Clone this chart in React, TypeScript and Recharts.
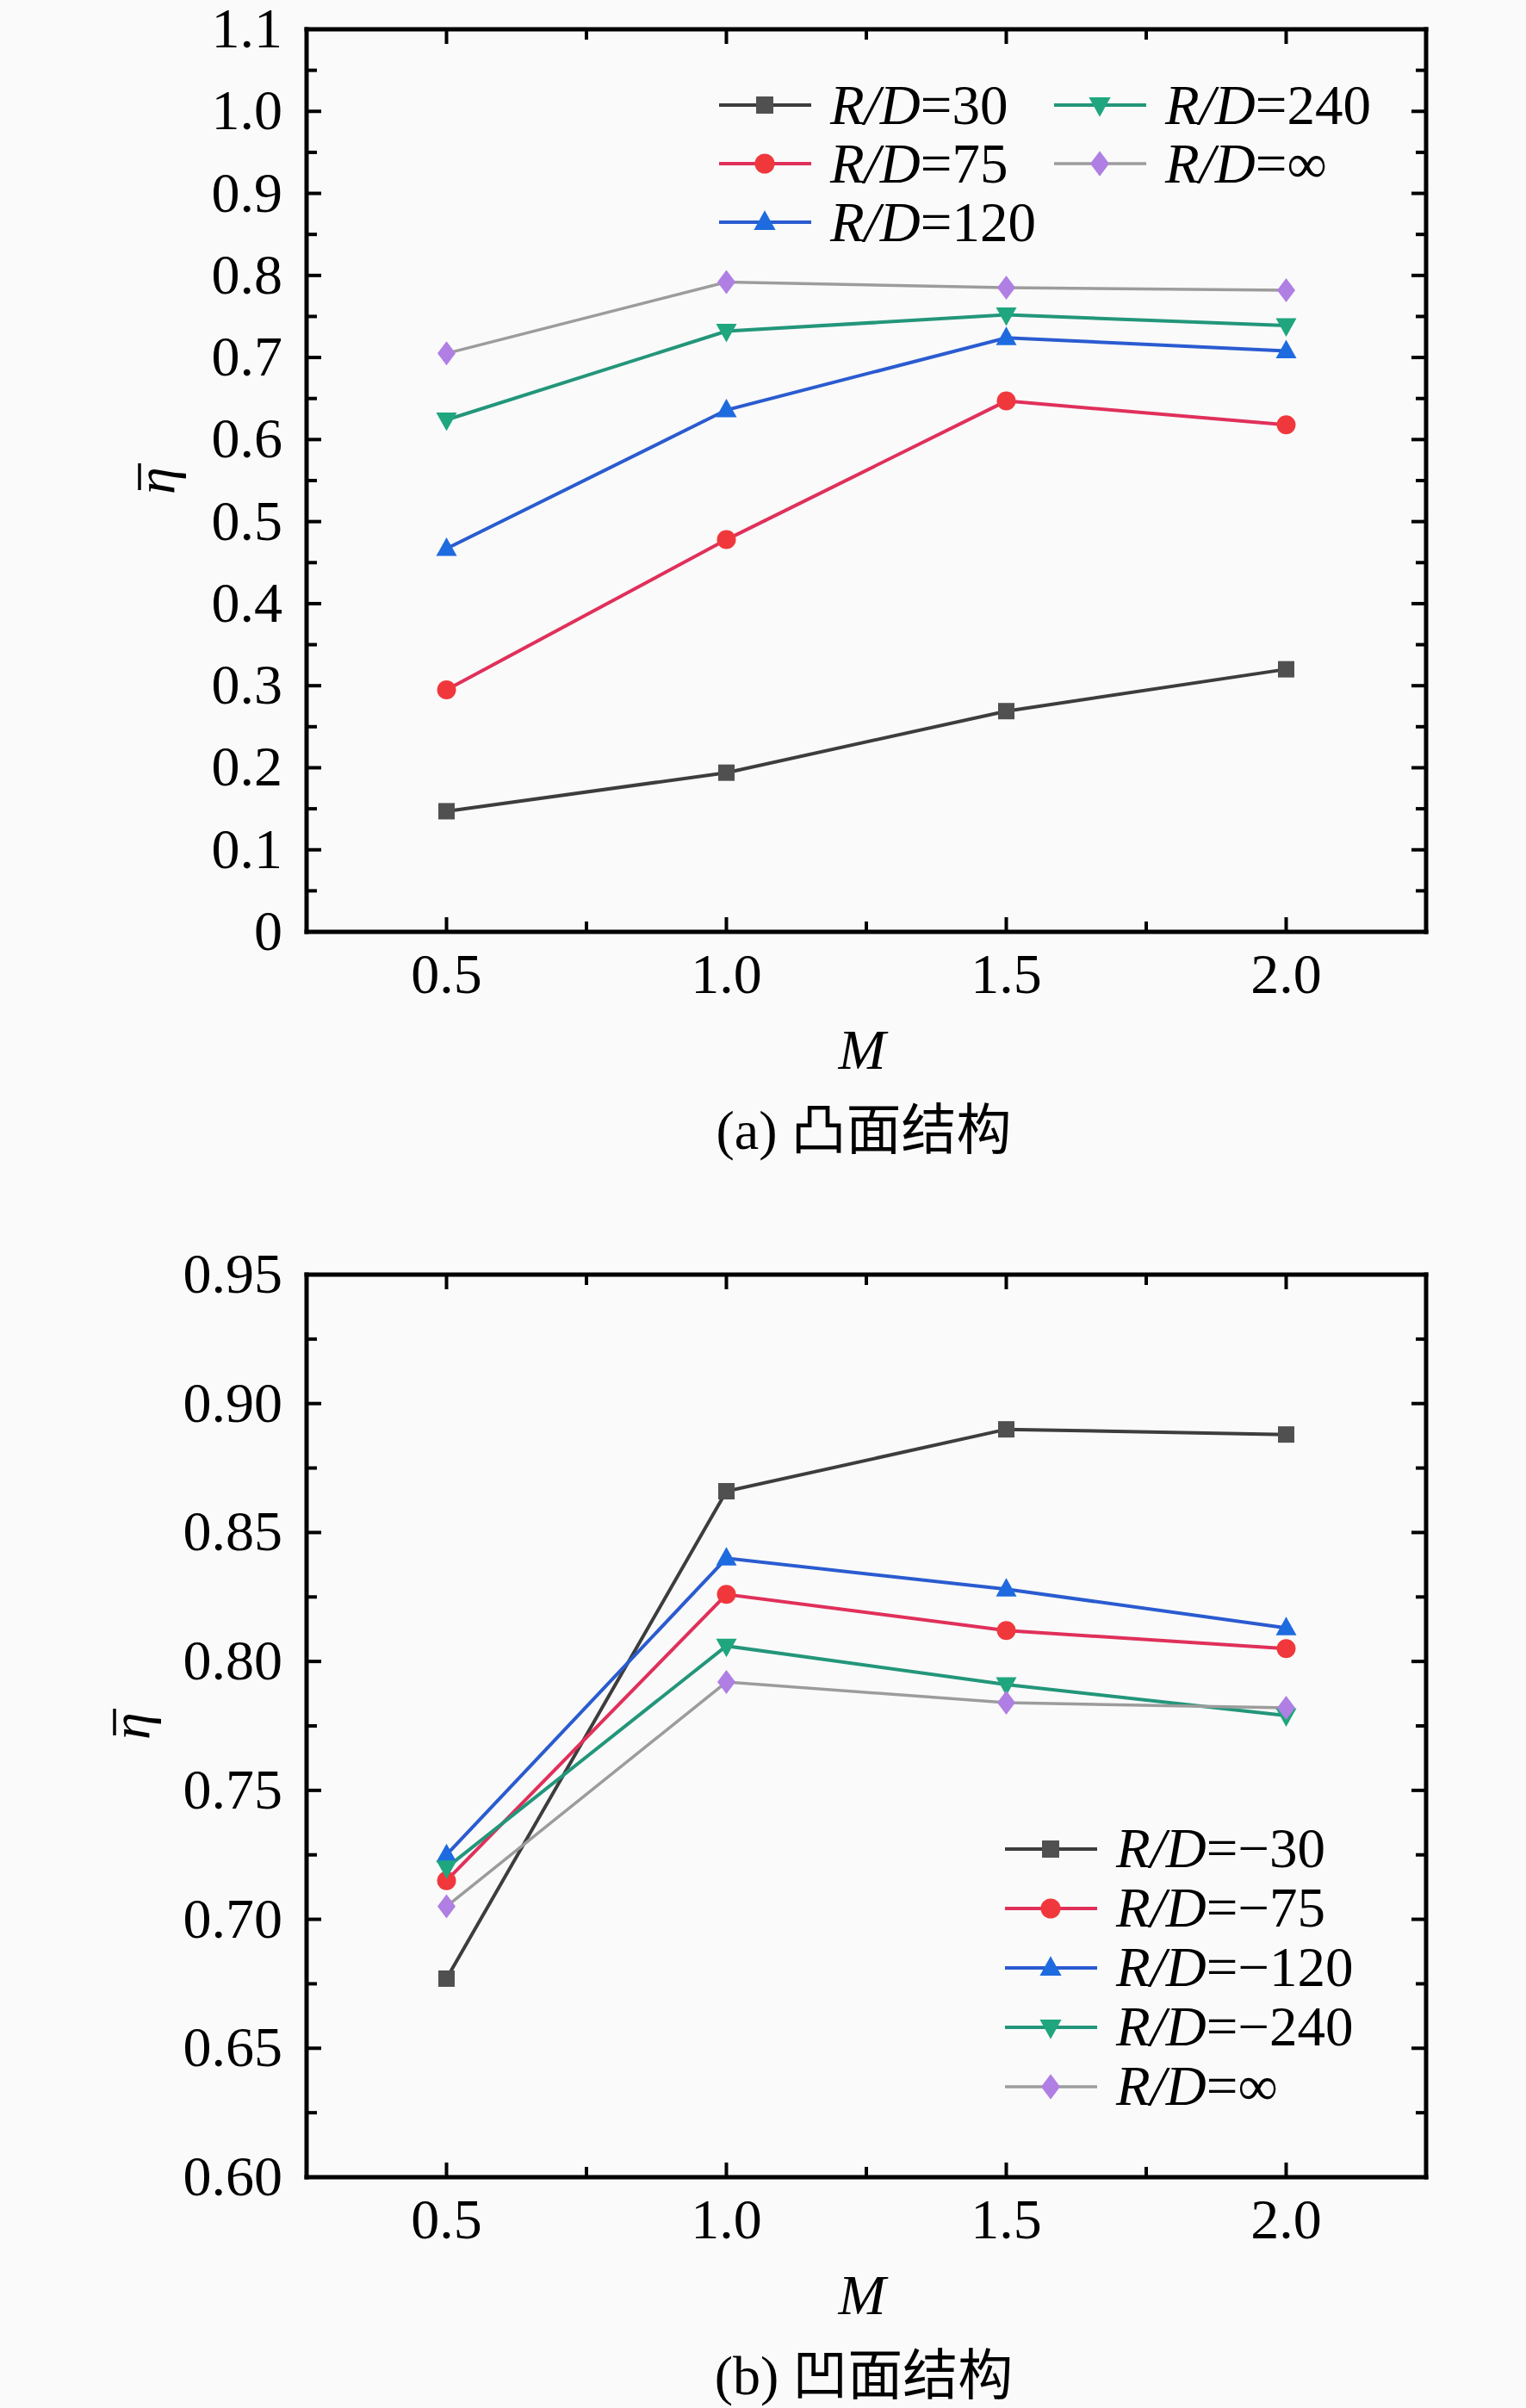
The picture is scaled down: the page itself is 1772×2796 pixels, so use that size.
import React from 'react';
import { Legend, Line, LineChart, XAxis, YAxis } from 'recharts';

// M values shared by both panels
const M_VALUES = [0.5, 1.0, 1.5, 2.0];
const X_MAJOR = [0.5, 1.0, 1.5, 2.0];
const X_MINOR = [0.75, 1.25, 1.75];

// (a) convex surface
const A_Y_MAJOR = [0, 0.1, 0.2, 0.3, 0.4, 0.5, 0.6, 0.7, 0.8, 0.9, 1.0, 1.1];
const A_Y_MINOR = [0.05, 0.15, 0.25, 0.35, 0.45, 0.55, 0.65, 0.75, 0.85, 0.95, 1.05];
const A_LABELS = ['30', '75', '120', '240', '∞'];
const A_RD30 = [0.147, 0.194, 0.269, 0.32];
const A_RD75 = [0.295, 0.478, 0.647, 0.618];
const A_RD120 = [0.467, 0.636, 0.724, 0.708];
const A_RD240 = [0.624, 0.732, 0.752, 0.739];
const A_RDINF = [0.705, 0.792, 0.785, 0.782];

// (b) concave surface
const B_Y_MAJOR = [0.6, 0.65, 0.7, 0.75, 0.8, 0.85, 0.9, 0.95];
const B_Y_MINOR = [0.625, 0.675, 0.725, 0.775, 0.825, 0.875, 0.925];
const B_LABELS = ['−30', '−75', '−120', '−240', '∞'];
const B_RD30 = [0.677, 0.866, 0.89, 0.888];
const B_RD75 = [0.715, 0.826, 0.812, 0.805];
const B_RD120 = [0.725, 0.84, 0.828, 0.813];
const B_RD240 = [0.72, 0.806, 0.791, 0.779];
const B_RDINF = [0.705, 0.792, 0.784, 0.782];

type Shape = 'square' | 'circle' | 'up' | 'down' | 'diamond';

// Origin-like look, same order in both panels.
const LOOK: { line: string; fill: string; shape: Shape; width: number }[] = [
  { line: '#3d3d3d', fill: '#505050', shape: 'square', width: 4 },
  { line: '#e0305a', fill: '#f0383c', shape: 'circle', width: 4 },
  { line: '#2a5bd0', fill: '#1e6be0', shape: 'up', width: 4 },
  { line: '#23967a', fill: '#1fa67e', shape: 'down', width: 4 },
  { line: '#9c9c9c', fill: '#b07fe3', shape: 'diamond', width: 3.5 },
];

const SERIF = '"Times New Roman", "Liberation Serif", "DejaVu Serif", serif';
const CAPTION_FONT = '"Times New Roman", "Liberation Serif", "Noto Sans CJK SC", serif';
const AXIS_LINE = { stroke: '#000', strokeWidth: 5, strokeLinecap: 'square' as const };
const TICK_W = 4;
const MAJOR_LEN = 17;
const MINOR_LEN = 12;
const PLOT_TOP = 53; // room above the frame so the top tick label is not clipped

const isMajor = (v: number, majors: number[]) => majors.some((m) => Math.abs(m - v) < 1e-9);

function Marker({ shape, cx, cy, fill, k = 1 }: { shape: Shape; cx: number; cy: number; fill: string; k?: number }) {
  switch (shape) {
    case 'square':
      return <rect x={cx - 9.5 * k} y={cy - 9.5 * k} width={19 * k} height={19 * k} fill={fill} />;
    case 'circle':
      return <circle cx={cx} cy={cy} r={11 * k} fill={fill} />;
    case 'up':
      return <polygon points={`${cx},${cy - 13 * k} ${cx + 12 * k},${cy + 8.5 * k} ${cx - 12 * k},${cy + 8.5 * k}`} fill={fill} />;
    case 'down':
      return <polygon points={`${cx},${cy + 13 * k} ${cx + 12 * k},${cy - 8.5 * k} ${cx - 12 * k},${cy - 8.5 * k}`} fill={fill} />;
    default:
      return <polygon points={`${cx},${cy - 14 * k} ${cx + 10.5 * k},${cy} ${cx},${cy + 14 * k} ${cx - 10.5 * k},${cy}`} fill={fill} />;
  }
}

function makeXTick(side: 'bottom' | 'top') {
  return (props: any) => {
    const { x, y, payload } = props;
    const major = isMajor(payload.value, X_MAJOR);
    const len = major ? MAJOR_LEN : MINOR_LEN;
    const dir = side === 'bottom' ? -1 : 1;
    return (
      <g>
        <line x1={x} x2={x} y1={y} y2={y + dir * len} stroke="#000" strokeWidth={TICK_W} />
        {side === 'bottom' && major && (
          <text x={x} y={y + 71} textAnchor="middle" fontFamily={SERIF} fontSize={66} fill="#000">
            {Number(payload.value).toFixed(1)}
          </text>
        )}
      </g>
    );
  };
}

function makeYTick(side: 'left' | 'right', majors: number[], fmt: (v: number) => string) {
  return (props: any) => {
    const { x, y, payload } = props;
    const major = isMajor(payload.value, majors);
    const len = major ? MAJOR_LEN : MINOR_LEN;
    const dir = side === 'left' ? 1 : -1;
    return (
      <g>
        <line x1={x} x2={x + dir * len} y1={y} y2={y} stroke="#000" strokeWidth={TICK_W} />
        {side === 'left' && major && (
          <text x={x - 28} y={y + 21} textAnchor="end" fontFamily={SERIF} fontSize={66} fill="#000">
            {fmt(payload.value)}
          </text>
        )}
      </g>
    );
  };
}

function EtaLabel({ viewBox, baseX }: { viewBox?: any; baseX: number }) {
  const cy = viewBox ? viewBox.y + viewBox.height / 2 : 577;
  return (
    <g transform={`translate(${baseX},${cy}) rotate(-90)`}>
      <text x={0} y={0} textAnchor="middle" fontFamily={SERIF} fontStyle="italic" fontSize={64} fill="#000">
        η
      </text>
      <line x1={-11} x2={20} y1={-40} y2={-40} stroke="#000" strokeWidth={3.5} />
    </g>
  );
}

function XLabel({ viewBox, caption }: { viewBox?: any; caption: string }) {
  const cx = viewBox ? viewBox.x + viewBox.width / 2 : 1006;
  const top = viewBox ? viewBox.y : 1101;
  return (
    <g>
      <text x={cx - 5} y={top + 159} textAnchor="middle" fontFamily={SERIF} fontStyle="italic" fontSize={66} fill="#000">
        M
      </text>
      <text x={cx - 3} y={top + 252} textAnchor="middle" fontFamily={CAPTION_FONT} fontSize={64} fill="#000">
        {caption}
      </text>
    </g>
  );
}

function LegendItem({ idx, label }: { idx: number; label: string }) {
  const look = LOOK[idx];
  return (
    <div style={{ display: 'flex', alignItems: 'center', height: '100%' }}>
      <svg width={107} height={40} style={{ display: 'block' }}>
        <line x1={0} x2={107} y1={20} y2={20} stroke={look.line} strokeWidth={look.width} />
        <Marker shape={look.shape} cx={53} cy={20} fill={look.fill} k={1.05} />
      </svg>
      <span style={{ marginLeft: 22, fontFamily: SERIF, fontSize: 65, lineHeight: 1, color: '#000', whiteSpace: 'nowrap' }}>
        <i>R</i>
        <i>/</i>
        <i>D</i>={label}
      </span>
    </div>
  );
}

function makeLegend(labels: string[], rows: number, rowH: number, colW: string) {
  return (props: any) => {
    const payload: any[] = props.payload || [];
    return (
      <div
        style={{
          display: 'grid',
          gridAutoFlow: 'column',
          gridTemplateRows: `repeat(${rows}, ${rowH}px)`,
          gridTemplateColumns: colW,
        }}
      >
        {payload.map((entry) => {
          const idx = Number(String(entry.dataKey).slice(1));
          return <LegendItem key={String(entry.dataKey)} idx={idx} label={labels[idx]} />;
        })}
      </div>
    );
  };
}

type PanelProps = {
  series: number[][];
  yDomain: [number, number];
  yMajor: number[];
  yMinor: number[];
  fmt: (v: number) => string;
  etaX: number;
  caption: string;
  legend: (props: any) => React.ReactElement;
  legendPos: { left: number; top: number };
};

function Panel({ series, yDomain, yMajor, yMinor, fmt, etaX, caption, legend, legendPos }: PanelProps) {
  const data = M_VALUES.map((m, i) => {
    const row: Record<string, number> = { m };
    series.forEach((s, k) => {
      row[`s${k}`] = s[i];
    });
    return row;
  });
  const xTicks = [...X_MAJOR, ...X_MINOR];
  const yTicks = [...yMajor, ...yMinor];
  return (
    <LineChart width={1772} height={1369} data={data} margin={{ top: PLOT_TOP - 1, right: 115, bottom: 0, left: 0 }}>
      <XAxis
        xAxisId="bottom"
        dataKey="m"
        type="number"
        domain={[0.25, 2.25]}
        ticks={xTicks}
        interval={0}
        tickSize={0}
        tickMargin={0}
        tickLine={false}
        tick={makeXTick('bottom')}
        axisLine={AXIS_LINE}
        height={268}
        allowDataOverflow
        label={<XLabel caption={caption} />}
      />
      <XAxis
        xAxisId="top"
        orientation="top"
        dataKey="m"
        type="number"
        domain={[0.25, 2.25]}
        ticks={xTicks}
        interval={0}
        tickSize={0}
        tickMargin={0}
        tickLine={false}
        tick={makeXTick('top')}
        axisLine={AXIS_LINE}
        height={1}
        allowDataOverflow
      />
      <YAxis
        yAxisId="left"
        type="number"
        domain={yDomain}
        ticks={yTicks}
        interval={0}
        tickSize={0}
        tickMargin={0}
        tickLine={false}
        tick={makeYTick('left', yMajor, fmt)}
        axisLine={AXIS_LINE}
        width={356}
        allowDataOverflow
        label={<EtaLabel baseX={etaX} />}
      />
      <YAxis
        yAxisId="right"
        orientation="right"
        type="number"
        domain={yDomain}
        ticks={yTicks}
        interval={0}
        tickSize={0}
        tickMargin={0}
        tickLine={false}
        tick={makeYTick('right', yMajor, fmt)}
        axisLine={AXIS_LINE}
        width={1}
        allowDataOverflow
      />
      <Legend
        layout="vertical"
        align="center"
        verticalAlign="middle"
        content={legend}
        wrapperStyle={{ left: legendPos.left, top: legendPos.top, width: 'auto', height: 'auto' }}
      />
      {series.map((_, k) => {
        const look = LOOK[k];
        return (
          <Line
            key={k}
            xAxisId="bottom"
            yAxisId="left"
            type="linear"
            dataKey={`s${k}`}
            stroke={look.line}
            strokeWidth={look.width}
            activeDot={false}
            isAnimationActive={false}
            dot={(p: any) => (
              <Marker key={`d${k}-${p.index}`} shape={look.shape} cx={p.cx} cy={p.cy} fill={look.fill} />
            )}
          />
        );
      })}
    </LineChart>
  );
}

const legendA = makeLegend(A_LABELS, 3, 68, '389px auto');
const legendB = makeLegend(B_LABELS, 5, 69, 'auto');

export default function App() {
  return (
    <div style={{ position: 'absolute', left: 0, top: 0, width: 1772, height: 2796, background: '#fafafa', overflow: 'hidden' }}>
      <div style={{ position: 'absolute', left: 0, top: 34 - PLOT_TOP }}>
        <Panel
          series={[A_RD30, A_RD75, A_RD120, A_RD240, A_RDINF]}
          yDomain={[0, 1.1]}
          yMajor={A_Y_MAJOR}
          yMinor={A_Y_MINOR}
          fmt={(v) => (v === 0 ? '0' : v.toFixed(1))}
          etaX={202}
          caption="(a) 凸面结构"
          legend={legendA}
          legendPos={{ left: 835, top: 88 + PLOT_TOP - 34 }}
        />
      </div>
      <div style={{ position: 'absolute', left: 0, top: 1480 - PLOT_TOP }}>
        <Panel
          series={[B_RD30, B_RD75, B_RD120, B_RD240, B_RDINF]}
          yDomain={[0.6, 0.95]}
          yMajor={B_Y_MAJOR}
          yMinor={B_Y_MINOR}
          fmt={(v) => v.toFixed(2)}
          etaX={173}
          caption="(b) 凹面结构"
          legend={legendB}
          legendPos={{ left: 1167, top: 666 + PLOT_TOP - 34 }}
        />
      </div>
    </div>
  );
}
